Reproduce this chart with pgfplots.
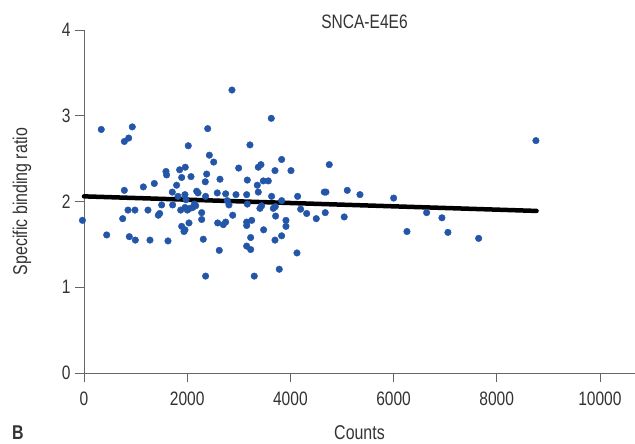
\documentclass[border=0pt]{standalone}
\usepackage{fontspec}
\setmainfont{Liberation Sans}[FakeStretch=0.8]
\usepackage{pgfplots}
\pgfplotsset{compat=1.18}
\definecolor{dotblue}{HTML}{2356A8}
\definecolor{txt}{HTML}{333333}
\definecolor{axc}{HTML}{666666}
\begin{document}
\begin{tikzpicture}
\useasboundingbox (-84bp,-71bp) rectangle (551bp,373bp);
\begin{axis}[
  scale only axis,
  width=551bp, height=343bp,
  xmin=0, xmax=10680, ymin=0, ymax=4,
  clip=false,
  axis x line=bottom, axis y line=left,
  axis line style={-, axc, line width=0.8bp},
  xtick={0,2000,4000,6000,8000,10000},
  ytick={0,1,2,3,4},
  scaled x ticks=false,
  tick align=outside,
  major tick length=9bp,
  tick style={axc, line width=0.8bp},
  /pgf/number format/assume math mode=true,
  /pgf/number format/1000 sep={},
  tick label style={font=\fontsize{19.5}{22}\selectfont, text=txt},
  xticklabel style={yshift=-6bp},
  yticklabel style={xshift=-1bp},
  xlabel={Counts},
  ylabel={Specific binding ratio},
  xlabel style={at={(axis description cs:0.5,-0.175)}, anchor=center, font=\fontsize{20}{22}\selectfont, text=txt},
  ylabel style={at={(axis description cs:-0.1125,0.5)}, anchor=center, font=\fontsize{20}{22}\selectfont, text=txt},
  title={SNCA-E4E6},
  title style={at={(axis description cs:0.5,1)}, anchor=center, xshift=5bp, yshift=2bp, font=\fontsize{19.5}{22}\selectfont, text=txt},
]
\addplot[only marks, mark=*, mark size=3.3bp, color=dotblue] coordinates {
(-30,1.78) (335,2.84) (440,1.61) (750,1.80) (782,2.70) (782,2.13) (853,1.90) (866,2.74)
(878,1.59) (936,2.87) (988,1.90) (995,1.55) (1150,2.17) (1240,1.90) (1279,1.55) (1363,2.21)
(1440,1.84) (1466,1.86) (1505,1.96) (1589,2.35) (1601,2.31) (1628,1.54) (1711,2.11) (1718,1.96)
(1795,2.19) (1822,2.06) (1854,2.37) (1874,1.90) (1893,2.28) (1893,1.71) (1938,1.65) (1957,2.08)
(1957,1.93) (1957,1.67) (1963,2.40) (1977,2.02) (2002,1.90) (2021,2.65) (2035,1.75) (2054,1.92)
(2074,2.29) (2106,1.93) (2140,1.97) (2164,1.95) (2184,2.12) (2210,2.10) (2281,1.87) (2281,1.79)
(2312,1.56) (2351,2.23) (2357,2.06) (2357,1.13) (2378,2.32) (2397,2.85) (2430,2.54) (2514,2.46)
(2583,2.10) (2591,1.75) (2700,1.73) (2746,1.76) (2622,1.43) (2636,2.26) (2746,2.09) (2777,2.01)
(2810,1.96) (2868,3.30) (2882,1.84) (2946,2.08) (2998,2.39) (3153,2.08) (3153,1.76) (3153,1.72)
(3153,1.48) (3165,2.25) (3165,1.97) (3217,2.66) (3230,1.58) (3230,1.44) (3250,1.78) (3300,1.13)
(3359,2.19) (3378,2.40) (3378,2.11) (3410,1.92) (3430,2.43) (3443,1.95) (3475,2.24) (3482,1.67)
(3572,2.24) (3630,2.97) (3636,2.06) (3669,1.92) (3702,2.36) (3702,1.55) (3708,1.94) (3714,1.83)
(3785,1.21) (3831,2.49) (3831,2.01) (3831,1.60) (3915,1.78) (3915,1.71) (4012,2.36) (4128,1.40)
(4141,2.06) (4199,1.91) (4316,1.86) (4502,1.80) (4657,2.11) (4690,2.11) (4676,1.87) (4754,2.43)
(5044,1.82) (5103,2.13) (5349,2.08) (6002,2.04) (6260,1.65) (6641,1.87) (6938,1.81) (7054,1.64)
(7649,1.57) (8760,2.71)
};
\addplot[black, line width=4.5bp, line cap=round] coordinates {(0,2.06) (8772,1.89)};
\end{axis}
\node[anchor=center, font=\bfseries\fontsize{20}{22}\selectfont, text=txt] at (-66bp,-60bp) {B};
\end{tikzpicture}
\end{document}
